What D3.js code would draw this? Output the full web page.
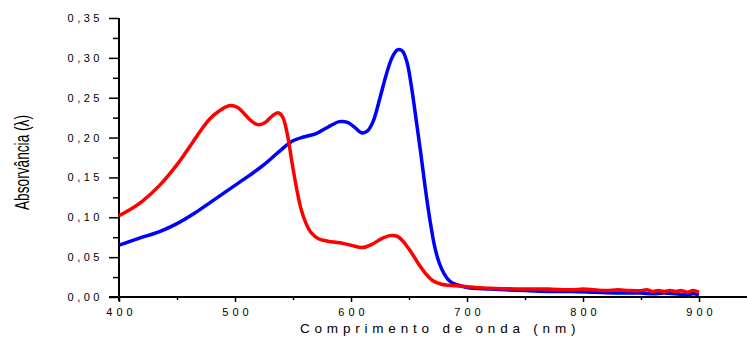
<html>
<head>
    <style>
        body { margin: 0; background: #fff; }
        text { font-family: "Liberation Sans", Arial, sans-serif; fill: #000; }
    </style>
</head>
<body>
    <svg id="container" width="747" height="338"></svg>
</body>
<script src="https://cdn.jsdelivr.net/npm/d3@7"></script>
<script>
    // wavelength (nm) / absorbance pairs
    let blueWave = [400, 410, 420, 435, 450, 465, 480, 495, 510, 525, 540, 550, 560, 570, 580, 590, 597, 603, 609, 614, 619, 625, 630, 635, 640, 644, 648, 652, 656, 660, 664, 668, 672, 676, 680, 685, 690, 700, 720, 750, 770, 790, 810, 830, 850, 860, 870, 880, 890, 895, 900]
    let blueAbs  = [0.065, 0.070, 0.075, 0.082, 0.092, 0.105, 0.120, 0.135, 0.150, 0.166, 0.185, 0.196, 0.201, 0.205, 0.213, 0.220, 0.219, 0.213, 0.206, 0.208, 0.220, 0.250, 0.277, 0.299, 0.310, 0.309, 0.296, 0.265, 0.224, 0.182, 0.137, 0.097, 0.064, 0.043, 0.030, 0.020, 0.016, 0.012, 0.010, 0.008, 0.007, 0.007, 0.006, 0.005, 0.005, 0.004, 0.005, 0.004, 0.003, 0.004, 0.003]

    let redWave = [400, 410, 420, 435, 450, 463, 470, 478, 486, 495, 502, 508, 514, 520, 526, 532, 537, 541, 545, 549, 553, 557, 561, 566, 572, 580, 590, 600, 610, 618, 626, 634, 640, 646, 652, 658, 664, 670, 678, 690, 700, 720, 750, 770, 790, 800, 810, 820, 830, 840, 850, 855, 860, 865, 870, 875, 880, 885, 890, 895, 900]
    let redAbs  = [0.102, 0.110, 0.120, 0.140, 0.166, 0.193, 0.208, 0.223, 0.233, 0.240, 0.238, 0.230, 0.221, 0.216, 0.219, 0.227, 0.231, 0.226, 0.205, 0.170, 0.137, 0.110, 0.093, 0.080, 0.073, 0.070, 0.068, 0.065, 0.062, 0.066, 0.073, 0.077, 0.076, 0.068, 0.056, 0.042, 0.030, 0.021, 0.016, 0.014, 0.013, 0.011, 0.010, 0.010, 0.009, 0.010, 0.009, 0.008, 0.009, 0.008, 0.008, 0.009, 0.007, 0.008, 0.007, 0.008, 0.007, 0.008, 0.006, 0.008, 0.006]

    let xMajor = [400, 500, 600, 700, 800, 900]
    let xMinor = [450, 550, 650, 750, 850]
    let yMajor = [0, 0.05, 0.10, 0.15, 0.20, 0.25, 0.30, 0.35]
    let yMinor = [0.025, 0.075, 0.125, 0.175, 0.225, 0.275, 0.325]

    let svg = d3.select("#container")

    let xScale = d3.scaleLinear().domain([400, 900]).range([119, 699])
    let yScale = d3.scaleLinear().domain([0, 0.35]).range([297, 18])

    let fmt = v => d3.format(".2f")(v).replace(".", ",")

    // x axis
    let xAxisG = svg.append("g").attr("transform", "translate(0,297)")
    xAxisG.call(d3.axisBottom(xScale).tickValues(xMajor).tickSize(5).tickPadding(6).tickFormat(d3.format("d")))
    xAxisG.append("g").call(d3.axisBottom(xScale).tickValues(xMinor).tickSize(3).tickFormat(""))
    xAxisG.selectAll(".domain").remove()
    xAxisG.append("line").attr("x1", 109).attr("x2", 747).attr("stroke", "#000").attr("stroke-width", 2)
    xAxisG.selectAll(".tick line").attr("stroke-width", 1.5)
    xAxisG.selectAll(".tick text")
        .style("font-size", "11px")
        .style("letter-spacing", "4px")
        .attr("dx", "2px")
        .attr("font-family", null)

    // y axis
    let yAxisG = svg.append("g").attr("transform", "translate(119,0)")
    yAxisG.call(d3.axisLeft(yScale).tickValues(yMajor).tickSize(10).tickPadding(8).tickFormat(fmt))
    yAxisG.append("g").call(d3.axisLeft(yScale).tickValues(yMinor).tickSize(6).tickFormat(""))
    yAxisG.selectAll(".domain").remove()
    yAxisG.append("line").attr("y1", 18).attr("y2", 301).attr("stroke", "#000").attr("stroke-width", 2)
    yAxisG.selectAll(".tick line").attr("stroke-width", 1.5)
    yAxisG.selectAll(".tick text")
        .style("font-size", "11px")
        .style("letter-spacing", "3.5px")
        .attr("dx", "2px")
        .attr("font-family", null)

    // curves
    let line = d3.line()
        .x(d => xScale(d[0]))
        .y(d => yScale(d[1]))
        .curve(d3.curveCatmullRom.alpha(0.5))

    svg.append("path")
        .datum(blueWave.map((w, i) => [w, blueAbs[i]]))
        .attr("d", line)
        .attr("fill", "none")
        .attr("stroke", "#0000ff")
        .attr("stroke-width", 3.5)

    svg.append("path")
        .datum(redWave.map((w, i) => [w, redAbs[i]]))
        .attr("d", line)
        .attr("fill", "none")
        .attr("stroke", "#ff0000")
        .attr("stroke-width", 3.5)

    // titles
    svg.append("text")
        .attr("x", 300)
        .attr("y", 333)
        .style("font-size", "13.5px")
        .style("letter-spacing", "4.8px")
        .text("Comprimento de onda (nm)")

    svg.append("text")
        .attr("transform", "translate(29,210) rotate(-90)")
        .attr("textLength", 95)
        .attr("lengthAdjust", "spacingAndGlyphs")
        .style("font-size", "20px")
        .style("font-weight", 300)
        .text("Absorvância (λ)")
</script>
</html>
